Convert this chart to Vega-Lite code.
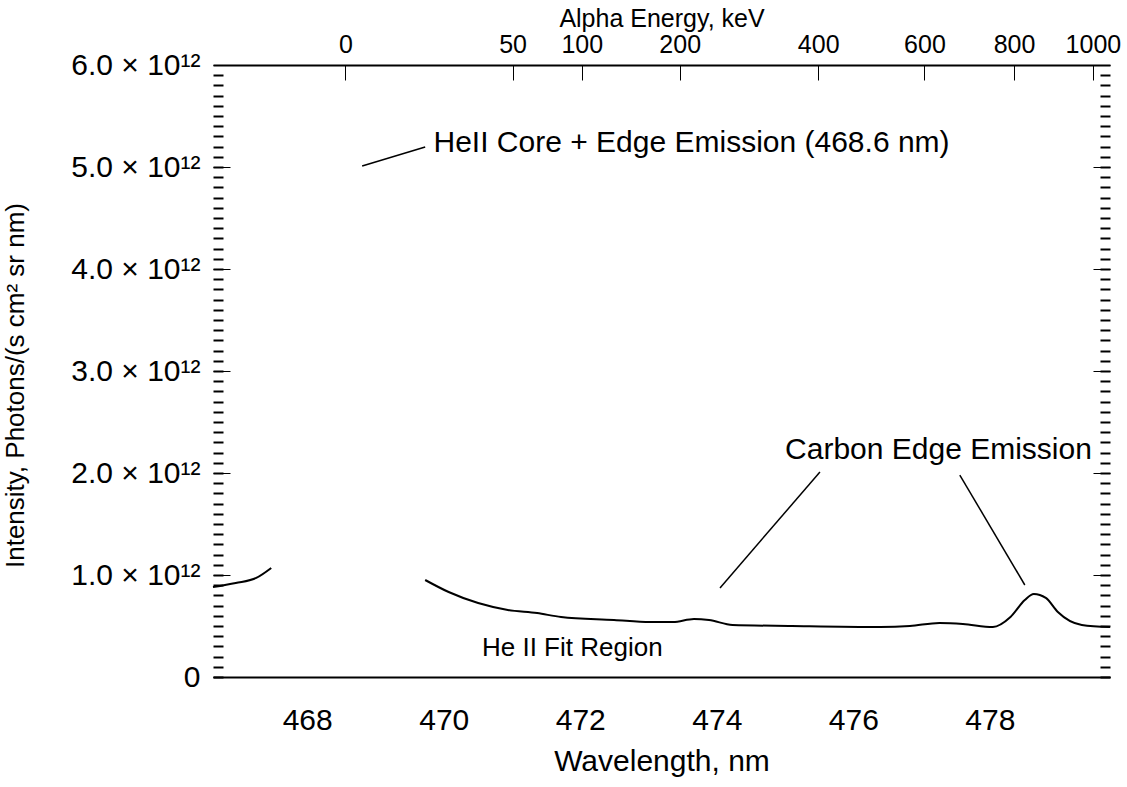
{
  "$schema": "https://vega.github.io/schema/vega-lite/v6.json",
  "width": 897,
  "height": 612,
  "autosize": {"type": "none"},
  "padding": {"left": 213, "top": 65, "right": 17, "bottom": 110},
  "background": "white",
  "config": {
    "view": {"stroke": null},
    "font": "Liberation Sans",
    "axis": {
      "grid": false,
      "domainColor": "black",
      "tickColor": "black",
      "labelColor": "black",
      "titleColor": "black",
      "labelFont": "Liberation Sans",
      "titleFont": "Liberation Sans",
      "titleFontWeight": "normal"
    }
  },
  "datasets": {
    "spectrum": [
      {"seg": "a", "wavelength": 466.62, "intensity": 8.82e11},
      {"seg": "a", "wavelength": 466.953, "intensity": 9.22e11},
      {"seg": "a", "wavelength": 467.253, "intensity": 9.71e11},
      {"seg": "a", "wavelength": 467.473, "intensity": 1.069e12},
      {"seg": "b", "wavelength": 469.728, "intensity": 9.51e11},
      {"seg": "b", "wavelength": 470.072, "intensity": 8.33e11},
      {"seg": "b", "wavelength": 470.504, "intensity": 7.25e11},
      {"seg": "b", "wavelength": 470.939, "intensity": 6.57e11},
      {"seg": "b", "wavelength": 471.368, "intensity": 6.27e11},
      {"seg": "b", "wavelength": 471.719, "intensity": 5.88e11},
      {"seg": "b", "wavelength": 472.495, "intensity": 5.59e11},
      {"seg": "b", "wavelength": 473.022, "intensity": 5.39e11},
      {"seg": "b", "wavelength": 473.359, "intensity": 5.39e11},
      {"seg": "b", "wavelength": 473.666, "intensity": 5.69e11},
      {"seg": "b", "wavelength": 473.886, "intensity": 5.59e11},
      {"seg": "b", "wavelength": 474.23, "intensity": 5.1e11},
      {"seg": "b", "wavelength": 475.101, "intensity": 5.0e11},
      {"seg": "b", "wavelength": 476.397, "intensity": 4.9e11},
      {"seg": "b", "wavelength": 476.829, "intensity": 5.0e11},
      {"seg": "b", "wavelength": 477.262, "intensity": 5.29e11},
      {"seg": "b", "wavelength": 477.605, "intensity": 5.2e11},
      {"seg": "b", "wavelength": 478.044, "intensity": 4.9e11},
      {"seg": "b", "wavelength": 478.302, "intensity": 5.88e11},
      {"seg": "b", "wavelength": 478.512, "intensity": 7.55e11},
      {"seg": "b", "wavelength": 478.644, "intensity": 8.14e11},
      {"seg": "b", "wavelength": 478.82, "intensity": 7.75e11},
      {"seg": "b", "wavelength": 478.996, "intensity": 6.37e11},
      {"seg": "b", "wavelength": 479.347, "intensity": 5.1e11},
      {"seg": "b", "wavelength": 479.76, "intensity": 4.9e11}
    ],
    "leaders": [
      {"wavelength": 468.805, "intensity": 5.01e12, "wavelength2": 469.728, "intensity2": 5.196e12},
      {"wavelength": 475.511, "intensity": 2.01e12, "wavelength2": 474.047, "intensity2": 8.73e11},
      {"wavelength": 477.56, "intensity": 1.98e12, "wavelength2": 478.512, "intensity2": 9.02e11}
    ],
    "notes": [
      {"label": "HeII Core + Edge Emission (468.6 nm)", "wavelength": 469.85, "intensity": 5.235e12, "group": "big"},
      {"label": "Carbon Edge Emission", "wavelength": 475.0, "intensity": 2.225e12, "group": "big"},
      {"label": "He II Fit Region", "wavelength": 470.56, "intensity": 2.84e11, "group": "small"}
    ]
  },
  "layer": [
    {
      "data": {"name": "spectrum"},
      "mark": {"type": "line", "color": "black", "strokeWidth": 2, "interpolate": "monotone"},
      "encoding": {
        "x": {
          "field": "wavelength", "type": "quantitative",
          "scale": {"domain": [466.62, 479.76], "nice": false, "zero": false},
          "axis": {
            "orient": "bottom", "values": [468, 470, 472, 474, 476, 478],
            "ticks": false, "domainWidth": 2, "labelFontSize": 30, "labelPadding": 28,
            "title": "Wavelength, nm", "titleFontSize": 30, "titleBaseline": "alphabetic", "titleY": 93
          }
        },
        "y": {
          "field": "intensity", "type": "quantitative",
          "scale": {"domain": [0, 6e12], "nice": false},
          "axis": {
            "orient": "left",
            "values": [0, 1e12, 2e12, 3e12, 4e12, 5e12, 6e12],
            "labelExpr": "datum.value == 0 ? '0' : format(datum.value / 1e12, '.1f') + ' × 10¹²'",
            "tickSize": -17, "domain": false, "labelFontSize": 30, "labelPadding": 30, "labelBaseline": "middle",
            "title": "Intensity, Photons/(s cm² sr nm)", "titleFontSize": 26,
            "titleAngle": -90, "titleX": -198, "titleY": 320, "titleAlign": "center", "titleBaseline": "middle"
          }
        },
        "detail": {"field": "seg"}
      }
    },
    {
      "data": {"name": "leaders"},
      "mark": {"type": "rule", "color": "black", "strokeWidth": 1.5},
      "encoding": {
        "x": {
          "field": "wavelength", "type": "quantitative",
          "axis": {
            "orient": "top",
            "values": [468.56, 471.0085, 472.0227, 473.457, 475.4854, 477.0418, 478.354, 479.51],
            "labelExpr": "format(round(pow((datum.value - 468.56) / 10.95, 2) * 1000), 'd')",
            "tickSize": -15, "domainWidth": 2, "labelFontSize": 25, "labelPadding": 23,
            "title": "Alpha Energy, keV", "titleFontSize": 25, "titleBaseline": "alphabetic", "titleY": -39
          }
        },
        "x2": {"field": "wavelength2"},
        "y": {
          "field": "intensity", "type": "quantitative",
          "axis": {
            "orient": "left",
            "values": [0, 1e11, 2e11, 3e11, 4e11, 5e11, 6e11, 7e11, 8e11, 9e11, 1e12, 1.1e12, 1.2e12, 1.3e12, 1.4e12, 1.5e12, 1.6e12, 1.7e12, 1.8e12, 1.9e12, 2e12, 2.1e12, 2.2e12, 2.3e12, 2.4e12, 2.5e12, 2.6e12, 2.7e12, 2.8e12, 2.9e12, 3e12, 3.1e12, 3.2e12, 3.3e12, 3.4e12, 3.5e12, 3.6e12, 3.7e12, 3.8e12, 3.9e12, 4e12, 4.1e12, 4.2e12, 4.3e12, 4.4e12, 4.5e12, 4.6e12, 4.7e12, 4.8e12, 4.9e12, 5e12, 5.1e12, 5.2e12, 5.3e12, 5.4e12, 5.5e12, 5.6e12, 5.7e12, 5.8e12, 5.9e12],
            "tickSize": -10, "tickWidth": 2, "labels": false, "domain": false, "title": null
          }
        },
        "y2": {"field": "intensity2"}
      }
    },
    {
      "data": {"name": "notes"},
      "transform": [{"filter": "datum.group == 'big'"}],
      "mark": {"type": "text", "color": "black", "fontSize": 30, "align": "left", "baseline": "middle", "font": "Liberation Sans"},
      "encoding": {
        "x": {"field": "wavelength", "type": "quantitative", "axis": null},
        "y": {
          "field": "intensity", "type": "quantitative",
          "axis": {
            "orient": "right", "values": [0, 1e12, 2e12, 3e12, 4e12, 5e12, 6e12],
            "tickSize": -17, "labels": false, "domain": false, "title": null
          }
        },
        "text": {"field": "label"}
      }
    },
    {
      "data": {"name": "notes"},
      "transform": [{"filter": "datum.group == 'small'"}],
      "mark": {"type": "text", "color": "black", "fontSize": 26, "align": "left", "baseline": "middle", "font": "Liberation Sans"},
      "encoding": {
        "x": {"field": "wavelength", "type": "quantitative", "axis": null},
        "y": {
          "field": "intensity", "type": "quantitative",
          "axis": {
            "orient": "right",
            "values": [0, 1e11, 2e11, 3e11, 4e11, 5e11, 6e11, 7e11, 8e11, 9e11, 1e12, 1.1e12, 1.2e12, 1.3e12, 1.4e12, 1.5e12, 1.6e12, 1.7e12, 1.8e12, 1.9e12, 2e12, 2.1e12, 2.2e12, 2.3e12, 2.4e12, 2.5e12, 2.6e12, 2.7e12, 2.8e12, 2.9e12, 3e12, 3.1e12, 3.2e12, 3.3e12, 3.4e12, 3.5e12, 3.6e12, 3.7e12, 3.8e12, 3.9e12, 4e12, 4.1e12, 4.2e12, 4.3e12, 4.4e12, 4.5e12, 4.6e12, 4.7e12, 4.8e12, 4.9e12, 5e12, 5.1e12, 5.2e12, 5.3e12, 5.4e12, 5.5e12, 5.6e12, 5.7e12, 5.8e12, 5.9e12],
            "tickSize": -10, "tickWidth": 2, "labels": false, "domain": false, "title": null
          }
        },
        "text": {"field": "label"}
      }
    }
  ],
  "resolve": {"axis": {"x": "independent", "y": "independent"}}
}
